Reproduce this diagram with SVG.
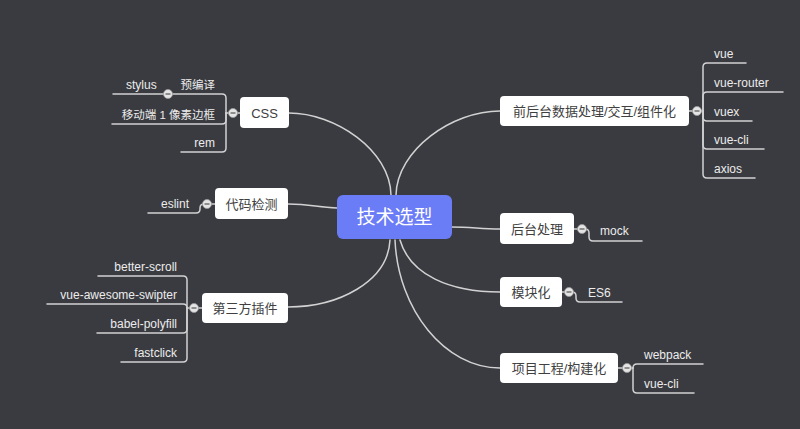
<svg xmlns="http://www.w3.org/2000/svg" width="800" height="429" viewBox="0 0 800 429">
<defs>
<style>
.bg{fill:#3a3b40}
.ln{fill:none;stroke:#d2d2d2;stroke-width:1.5;stroke-linecap:round}
.box{fill:#ffffff}
.nt{font-family:"Liberation Sans","Noto Sans CJK SC",sans-serif;font-size:13px;fill:#404040;text-anchor:middle}
.ct{font-family:"Liberation Sans","Noto Sans CJK SC",sans-serif;font-size:12px;fill:#ececec}
.cj{font-size:11.5px}
.end{text-anchor:end}
.tc{fill:#e4e4e4;stroke:#9a9a9a;stroke-width:0.8}
.tm{stroke:#555;stroke-width:1.2}
</style>
<g id="tog">
<circle class="tc" cx="0" cy="0" r="4.5"/>
<line class="tm" x1="-2.5" y1="0" x2="2.5" y2="0"/>
</g>
</defs>
<rect class="bg" x="0" y="0" width="800" height="429"/>
<g id="connectors">
<path class="ln" d="M289,113 C335,113 390,150 391,195"/>
<path class="ln" d="M500,111 C452,111 397,150 396,195"/>
<path class="ln" d="M288,204 C310,204 316,207 337,208"/>
<path class="ln" d="M288,307 C338,307 388,282 390,240"/>
<path class="ln" d="M451,227 C472,227 480,229 500,229"/>
<path class="ln" d="M400,240 C410,275 450,292 500,292"/>
<path class="ln" d="M395,240 C398,310 445,368 500,368"/>
<path class="ln" d="M240,113 L226,113"/>
<path class="ln" d="M226,113 L226,98 Q226,94 222,94 L168,94"/>
<path class="ln" d="M168,94 L113,94"/>
<path class="ln" d="M226,113 L226,120 Q226,124 222,124 L112,124"/>
<path class="ln" d="M226,113 L226,148 Q226,152 222,152 L181,152"/>
<path class="ln" d="M215,204 L207,204"/>
<path class="ln" d="M207,204 L204,204 Q200,204 200,208 L200,209 Q200,213 196,213 L148,213"/>
<path class="ln" d="M202,308 L187,308"/>
<path class="ln" d="M187,308 L187,280 Q187,276 183,276 L98,276"/>
<path class="ln" d="M187,308 Q187,304 183,304 L47,304"/>
<path class="ln" d="M187,308 L187,329 Q187,333 183,333 L97,333"/>
<path class="ln" d="M187,308 L187,358 Q187,362 183,362 L121,362"/>
<path class="ln" d="M689,111 L703,111"/>
<path class="ln" d="M703,111 L703,67 Q703,63 707,63 L746,63"/>
<path class="ln" d="M703,111 L703,96 Q703,92 707,92 L783,92"/>
<path class="ln" d="M703,111 L703,117 Q703,121 707,121 L752,121"/>
<path class="ln" d="M703,111 L703,145 Q703,149 707,149 L764,149"/>
<path class="ln" d="M703,111 L703,174 Q703,178 707,178 L755,178"/>
<path class="ln" d="M574,229 L582,229"/>
<path class="ln" d="M582,229 L585,229 Q589,229 589,233 L589,237 Q589,241 593,241 L642,241"/>
<path class="ln" d="M562,292 L569,292"/>
<path class="ln" d="M569,292 L572,292 Q576,292 576,296 L576,298 Q576,302 580,302 L622,302"/>
<path class="ln" d="M618,368 L633,368"/>
<path class="ln" d="M633,368 Q633,364 637,364 L703,364"/>
<path class="ln" d="M633,368 L633,389 Q633,393 637,393 L694,393"/>
</g>
<g id="root">
<rect x="337" y="195" width="115" height="44" rx="6" fill="#6b7cf7"/>
<text x="394.5" y="224" font-family="'Liberation Sans','Noto Sans CJK SC',sans-serif" font-size="19" fill="#ffffff" text-anchor="middle">技术选型</text>
</g>
<g id="css">
<rect class="box" x="240" y="97" width="49" height="31" rx="4"/>
<text class="nt" x="264.5" y="117.5">CSS</text>
<use href="#tog" x="233" y="113"/>
</g>
<g id="precompile">
<text class="ct cj end" x="215" y="89">预编译</text>
<use href="#tog" x="168" y="94"/>
</g>
<g id="stylus"><text class="ct" x="126" y="89">stylus</text></g>
<g id="onepx"><text class="ct cj end" x="215" y="119">移动端 1 像素边框</text></g>
<g id="rem"><text class="ct end" x="215" y="147">rem</text></g>
<g id="lint">
<rect class="box" x="215" y="188" width="73" height="31" rx="4"/>
<text class="nt" x="251.5" y="208.5">代码检测</text>
<use href="#tog" x="207" y="204"/>
</g>
<g id="eslint"><text class="ct end" x="189" y="208">eslint</text></g>
<g id="plugins">
<rect class="box" x="202" y="293" width="86" height="30" rx="4"/>
<text class="nt" x="245" y="312.5">第三方插件</text>
<use href="#tog" x="194" y="308"/>
</g>
<g id="betterscroll"><text class="ct end" x="177" y="271">better-scroll</text></g>
<g id="swiper"><text class="ct end" x="177" y="299">vue-awesome-swipter</text></g>
<g id="polyfill"><text class="ct end" x="177" y="328">babel-polyfill</text></g>
<g id="fastclick"><text class="ct end" x="177" y="357">fastclick</text></g>
<g id="frontback">
<rect class="box" x="500" y="96" width="189" height="30" rx="4"/>
<text class="nt" x="594.5" y="115.5">前后台数据处理/交互/组件化</text>
<use href="#tog" x="697" y="111"/>
</g>
<g id="vue"><text class="ct" x="714" y="58">vue</text></g>
<g id="vuerouter"><text class="ct" x="714" y="87">vue-router</text></g>
<g id="vuex"><text class="ct" x="714" y="116">vuex</text></g>
<g id="vuecli1"><text class="ct" x="714" y="144">vue-cli</text></g>
<g id="axios"><text class="ct" x="714" y="173">axios</text></g>
<g id="backend">
<rect class="box" x="500" y="213" width="74" height="31" rx="4"/>
<text class="nt" x="537" y="233.5">后台处理</text>
<use href="#tog" x="582" y="229"/>
</g>
<g id="mock"><text class="ct" x="600" y="235">mock</text></g>
<g id="modular">
<rect class="box" x="500" y="277" width="62" height="30" rx="4"/>
<text class="nt" x="531" y="296.5">模块化</text>
<use href="#tog" x="569" y="292"/>
</g>
<g id="es6"><text class="ct" x="588" y="297">ES6</text></g>
<g id="build">
<rect class="box" x="500" y="353" width="118" height="30" rx="4"/>
<text class="nt" x="559" y="372.5">项目工程/构建化</text>
<use href="#tog" x="627" y="368"/>
</g>
<g id="webpack"><text class="ct" x="644" y="359">webpack</text></g>
<g id="vuecli2"><text class="ct" x="644" y="388">vue-cli</text></g>
</svg>
